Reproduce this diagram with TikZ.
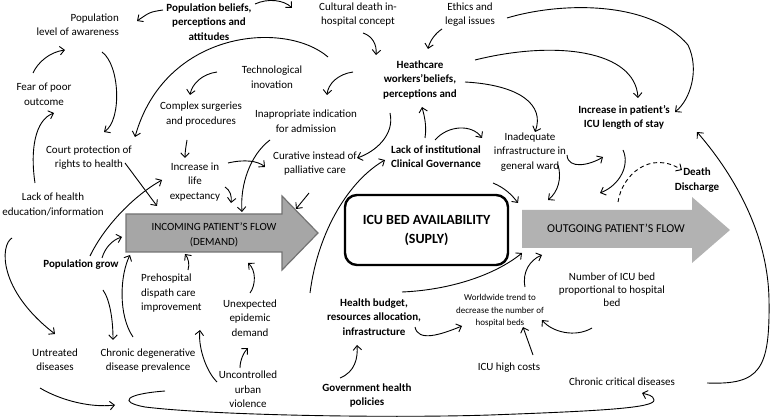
\documentclass[tikz,border=0pt]{standalone}
\usepackage{fontspec}
\setmainfont{Carlito}
\usetikzlibrary{arrows.meta}
\begin{document}
\begin{tikzpicture}[x=1pt,y=-1pt,
  txt/.style={inner sep=0pt, align=center, font=\fontsize{11}{14.5}\selectfont},
  btxt/.style={inner sep=0pt, align=center, font=\fontsize{11}{14.5}\selectfont\bfseries},
  stxt/.style={inner sep=0pt, align=center, font=\fontsize{9}{12.5}\selectfont},
  arr/.style={line width=0.9pt, -{Straight Barb[length=4.5pt,width=8.5pt]}},
  incshape/.style={fill={rgb,255:red,166;green,166;blue,166}, draw={rgb,255:red,115;green,115;blue,115}, line width=1.2pt},
  outshape/.style={fill={rgb,255:red,178;green,178;blue,178}},
]
\useasboundingbox (0,0) rectangle (771,419);

% big arrows and box
\draw[incshape] (126,214) -- (282,214) -- (282,196) -- (318,233) -- (282,270) -- (282,252) -- (126,252) -- cycle;
\fill[outshape] (522,210) -- (692,210) -- (692,197) -- (730,230) -- (692,263) -- (692,248) -- (522,248) -- cycle;
\node[txt] (inc) at (214,235) {INCOMING PATIENT’S FLOW\\(DEMAND)};
\node[txt, font=\fontsize{12}{14.5}\selectfont] (out) at (616,228) {OUTGOING PATIENT’S FLOW};
\node[draw, line width=2.4pt, rounded corners=12pt, minimum width=163pt, minimum height=70pt, align=center, font=\fontsize{14}{19}\selectfont\bfseries] (icu) at (426.5,230) {ICU BED AVAILABILITY\\(SUPLY)};

% text nodes
\node[txt, align=right, anchor=east] (awareness) at (119,24.5) {Population\\level of awareness};
\node[btxt] (beliefs) at (209,22) {Population beliefs,\\perceptions and\\attitudes};
\node[txt] (cultural) at (358,14.5) {Cultural death in-\\hospital concept};
\node[txt] (ethics) at (470,14.5) {Ethics and\\legal issues};
\node[btxt] (hcw) at (420,80) {Heathcare\\workers’beliefs,\\perceptions and};
\node[txt] (tech) at (272,77) {Technological\\inovation};
\node[txt] (complex) at (201,114) {Complex surgeries\\and procedures};
\node[txt] (inap) at (306,121) {Inapropriate indication\\for admission};
\node[txt] (court) at (89,157.5) {Court protection of\\rights to health};
\node[txt] (life) at (195,182) {Increase in\\life\\expectancy};
\node[txt] (curative) at (315,163.5) {Curative instead of\\palliative care};
\node[txt] (lackh) at (53,204.5) {Lack of health\\education/information};
\node[btxt] (popgrow) at (81,265) {Population grow};
\node[txt] (fear) at (44,94.5) {Fear of poor\\outcome};
\node[btxt] (lackinst) at (436,156.5) {Lack of institutional\\Clinical Governance};
\node[txt] (inadeq) at (530,152) {Inadequate\\infrastructure in\\general ward};
\node[btxt] (stay) at (624,117.5) {Increase in patient’s\\ICU length of stay};
\node[btxt] (death) at (697,180) {Death\\Discharge};
\node[txt, font=\fontsize{11}{13}\selectfont] (numbed) at (612,290) {Number of ICU bed\\proportional to hospital\\bed};
\node[stxt] (world) at (500,311) {Worldwide trend to\\decrease the number of\\hospital beds};
\node[txt] (costs) at (509,368) {ICU high costs};
\node[txt] (ccrit) at (622,382) {Chronic critical diseases};
\node[btxt] (budget) at (374,317) {Health budget,\\resources allocation,\\infrastructure};
\node[btxt] (govt) at (367,395.5) {Government health\\policies};
\node[txt] (unexp) at (250,318) {Unexpected\\epidemic\\demand};
\node[txt] (uncont) at (248,389.5) {Uncontrolled\\urban\\violence};
\node[txt, align=left, anchor=west] (prehosp) at (141,293.5) {Prehospital\\dispath care\\improvement};
\node[txt] (chrondeg) at (148,360.5) {Chronic degenerative\\disease prevalence};
\node[txt] (untreat) at (55,359.5) {Untreated\\diseases};

\coordinate (estart) at (328,57);
\coordinate (loopin) at (115,405);

% connectors
\draw[arr] ([shift={(-46,-12)}]beliefs.center) .. controls (150,12) .. ([shift={(18,-3.5)}]awareness.east);
\draw[arr] ([shift={(46,-18)}]beliefs.center) .. controls (268,-2) and (284,0) .. ([shift={(-66,-6.5)}]cultural.center);
\draw[arr] ([shift={(5,18.5)}]cultural.center) .. controls (372,36) and (377,44) .. ([shift={(-44,-25)}]hcw.center);
\draw[arr] ([shift={(-28,14.5)}]ethics.center) .. controls (436,33) and (430,40) .. ([shift={(8,-31)}]hcw.center);
\draw[arr] (estart) .. controls (285,20) and (165,30) .. ([shift={(46,-20.5)}]court.center);
\draw[arr] ([shift={(-17,27.5)}]awareness.east) .. controls (120,65) and (122,120) .. ([shift={(15,-25.5)}]court.center);
\draw[arr] ([shift={(-11,-21.5)}]fear.center) .. controls (38,62) and (50,52) .. ([shift={(-54,25.5)}]awareness.east);
\draw[arr] ([shift={(-18,-21.5)}]lackh.center) .. controls (30,150) and (35,120) .. ([shift={(10,18.5)}]fear.center);
\draw[arr] ([shift={(-14,26)}]complex.center) .. controls (186,146) and (185,152) .. ([shift={(-10,-24)}]life.center);
\draw[arr] ([shift={(-55,-5)}]tech.center) .. controls (202,74) and (192,84) .. ([shift={(-11,-19)}]complex.center);
\draw[arr] ([shift={(-67,-8)}]hcw.center) .. controls (338,74) and (328,84) .. ([shift={(21,-26)}]inap.center);
\draw[arr] ([shift={(-36,19)}]inap.center) .. controls (250,155) and (240,185) .. ([shift={(28,-23)}]inc.center);
\draw[arr] ([shift={(30,5)}]life.center) .. controls (230,190) and (232,196) .. ([shift={(17,-32)}]inc.center);
\draw[arr] ([shift={(33,-19)}]life.center) .. controls (245,159) and (258,161) .. ([shift={(-50,3.5)}]curative.center);
\draw[arr] ([shift={(-6,29.5)}]curative.center) .. controls (305,198) and (300,204) .. ([shift={(82,-26)}]inc.center);
\draw[arr] ([shift={(-30,33)}]hcw.center) .. controls (395,135) and (375,152) .. ([shift={(42,-5.5)}]curative.center);
\draw[arr] ([shift={(-11,-18.5)}]lackinst.center) .. controls (427,125) and (424,115) .. ([shift={(2,27)}]hcw.center);
\draw[arr] ([shift={(-1,-16.5)}]lackinst.center) .. controls (448,125) and (472,124) .. ([shift={(-48,-14)}]inadeq.center);
\draw[arr] ([shift={(45,2)}]hcw.center) .. controls (520,85) and (545,105) .. ([shift={(5,-20)}]inadeq.center);
\draw[arr] ([shift={(55,-20)}]hcw.center) .. controls (555,40) and (635,50) .. ([shift={(14,-19.5)}]stay.center);
\draw[arr] ([shift={(37,3.5)}]ethics.center) .. controls (560,2) and (650,0) .. (688,45) .. controls (700,70) and (690,100) .. ([shift={(51,-5.5)}]stay.center);
\draw[arr] ([shift={(37,3)}]inadeq.center) .. controls (568,170) and (590,165) .. ([shift={(-21,39.5)}]stay.center);
\draw[arr] ([shift={(28,13)}]inadeq.center) .. controls (562,178) and (558,192) .. ([shift={(-68,-28)}]out.center);
\draw[arr] ([shift={(-1,32.5)}]stay.center) .. controls (630,165) and (620,185) .. ([shift={(-16,-35)}]out.center);
\draw[arr, dash pattern=on 4pt off 3pt] ([shift={(2,-26)}]out.center) .. controls (622,175) and (650,150) .. ([shift={(-15,-10)}]death.center);
\draw[arr] ([shift={(57,26.5)}]lackinst.center) .. controls (505,188) and (512,195) .. ([shift={(-98,-25)}]out.center);
\draw[arr] ([shift={(28,-25)}]budget.center) .. controls (450,290) and (495,275) .. ([shift={(-94,25)}]out.center);
\draw[arr] ([shift={(25,-24)}]world.center) .. controls (522,272) and (530,260) .. ([shift={(-74,27)}]out.center);
\draw[arr] ([shift={(41,10)}]budget.center) .. controls (418,342) and (440,335) .. ([shift={(-38,15)}]world.center);
\draw[arr] ([shift={(9,-9)}]popgrow.center) .. controls (105,225) and (135,195) .. ([shift={(-33,-2)}]life.center);
\draw[arr] ([shift={(36,5.5)}]court.center) -- ([shift={(-57,-29)}]inc.center);
\draw[arr] ([shift={(21,-7)}]popgrow.center) .. controls (105,248) and (112,240) .. ([shift={(-92,2)}]inc.center);
\draw[arr] ([shift={(-15,-23.5)}]chrondeg.center) .. controls (118,315) and (120,275) .. ([shift={(-84,20)}]inc.center);
\draw[arr] ([shift={(47,-23.5)}]prehosp.west) .. controls (190,264) and (188,258) .. ([shift={(-29,19)}]inc.center);
\draw[arr] ([shift={(0,-25)}]unexp.center) .. controls (256,285) and (256,270) .. ([shift={(34,28)}]inc.center);
\draw[arr] ([shift={(-8,-21.5)}]uncont.center) .. controls (240,360) and (244,352) .. ([shift={(-2,30)}]unexp.center);
\draw[arr] ([shift={(-31,-7.5)}]uncont.center) .. controls (205,370) and (198,345) .. ([shift={(59,36.5)}]prehosp.west);
\draw[arr] ([shift={(22,25)}]popgrow.center) .. controls (110,300) and (113,320) .. ([shift={(-35,-20.5)}]chrondeg.center);
\draw[arr] ([shift={(-41,33.5)}]lackh.center) .. controls (0,245) and (-2,290) .. ([shift={(0,-25.5)}]untreat.center);
\draw[arr] ([shift={(-15,28.5)}]untreat.center) .. controls (60,400) and (90,408) .. (loopin);
\draw[arr] ([shift={(17,30.5)}]chrondeg.center) .. controls (125,394) and (118,402) .. (145,407) .. controls (220,416) and (400,418) .. (490,415) .. controls (600,411) and (655,408) .. (654,400) .. controls (653,395) and (648,395) .. ([shift={(20,11)}]ccrit.center);
\draw[arr] ([shift={(85,1)}]ccrit.center) .. controls (760,385) and (770,370) .. (769,300) .. controls (768,230) and (730,170) .. ([shift={(73,14.5)}]stay.center);
\draw[arr] ([shift={(-27,-17.5)}]govt.center) .. controls (355,372) and (358,358) .. ([shift={(-17,28)}]budget.center);
\draw[arr] ([shift={(24,-13)}]costs.center) -- ([shift={(23,16)}]world.center);
\draw[arr] ([shift={(-20,38)}]numbed.center) .. controls (575,338) and (552,332) .. ([shift={(42,9)}]world.center);
\draw[arr] ([shift={(-64,-24)}]budget.center) .. controls (318,230) and (350,180) .. ([shift={(-51,3.5)}]lackinst.center);
\end{tikzpicture}
\end{document}
